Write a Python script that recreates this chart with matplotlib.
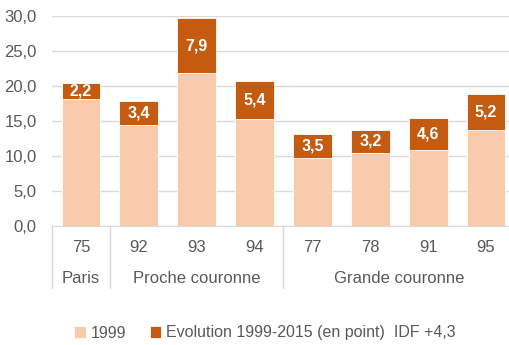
import matplotlib.pyplot as plt
from matplotlib import font_manager

names = {f.name for f in font_manager.fontManager.ttflist}
fam = 'Liberation Sans Narrow' if 'Liberation Sans Narrow' in names else 'Liberation Sans'
plt.rcParams['font.family'] = [fam, 'DejaVu Sans']

depts = ['75', '92', '93', '94', '77', '78', '91', '95']
groups = [('Paris', 0, 0), ('Proche couronne', 1, 3), ('Grande couronne', 4, 7)]
base_1999 = [18.2, 14.4, 21.8, 15.3, 9.7, 10.5, 10.8, 13.7]
evol = [2.2, 3.4, 7.9, 5.4, 3.5, 3.2, 4.6, 5.2]

c_light = '#F8CBAD'
c_dark = '#C55A11'
grey = '#595959'

fig = plt.figure(figsize=(5.1, 3.45), dpi=100)
ax = fig.add_axes([52/510, 119/345, 463/510, 210/345])

x = list(range(len(depts)))
ax.bar(x, base_1999, width=0.67, color=c_light, edgecolor='white', linewidth=0.6,
       label='1999', zorder=3)
ax.bar(x, evol, bottom=base_1999, width=0.67, color=c_dark, edgecolor='white',
       linewidth=0.6, label='Evolution 1999-2015 (en point)  IDF +4,3', zorder=3)
for i in x:
    ax.text(i, base_1999[i] + evol[i] / 2, f'{evol[i]:.1f}'.replace('.', ','),
            ha='center', va='center', color='white', fontsize=11.5,
            fontweight='bold', zorder=4)

ax.set_xlim(-0.5, 7.5)
ax.set_ylim(0, 30)
ax.set_yticks(range(0, 31, 5))
ax.set_yticklabels([f'{v:.1f}'.replace('.', ',') for v in range(0, 31, 5)],
                   color=grey, fontsize=12)
ax.tick_params(axis='y', length=0, pad=11)
ax.set_xticks([])
ax.grid(axis='y', color='#D9D9D9', linewidth=1, zorder=0)
for s in ['top', 'right', 'left']:
    ax.spines[s].set_visible(False)
ax.spines['bottom'].set_color('#D9D9D9')

# category labels below the axis
for i, d in enumerate(depts):
    ax.text(i, -0.10, d, transform=ax.get_xaxis_transform(), ha='center',
            va='center', color=grey, fontsize=12)
for name, a, b in groups:
    ax.text((a + b) / 2, -0.25, name, transform=ax.get_xaxis_transform(),
            ha='center', va='center', color=grey, fontsize=12)
for sep in [-0.5, 0.5, 3.5, 7.5]:
    ax.plot([sep, sep], [0, -0.295], transform=ax.get_xaxis_transform(),
            color='#D9D9D9', linewidth=1, clip_on=False)

fig.legend(loc='center', bbox_to_anchor=(265/510, 1 - 333/345), ncol=2,
           frameon=False, fontsize=11.5, labelcolor=grey, handlelength=0.7,
           handleheight=0.7, handletextpad=0.3, columnspacing=1.5)

fig.savefig('out.png', dpi=100)
